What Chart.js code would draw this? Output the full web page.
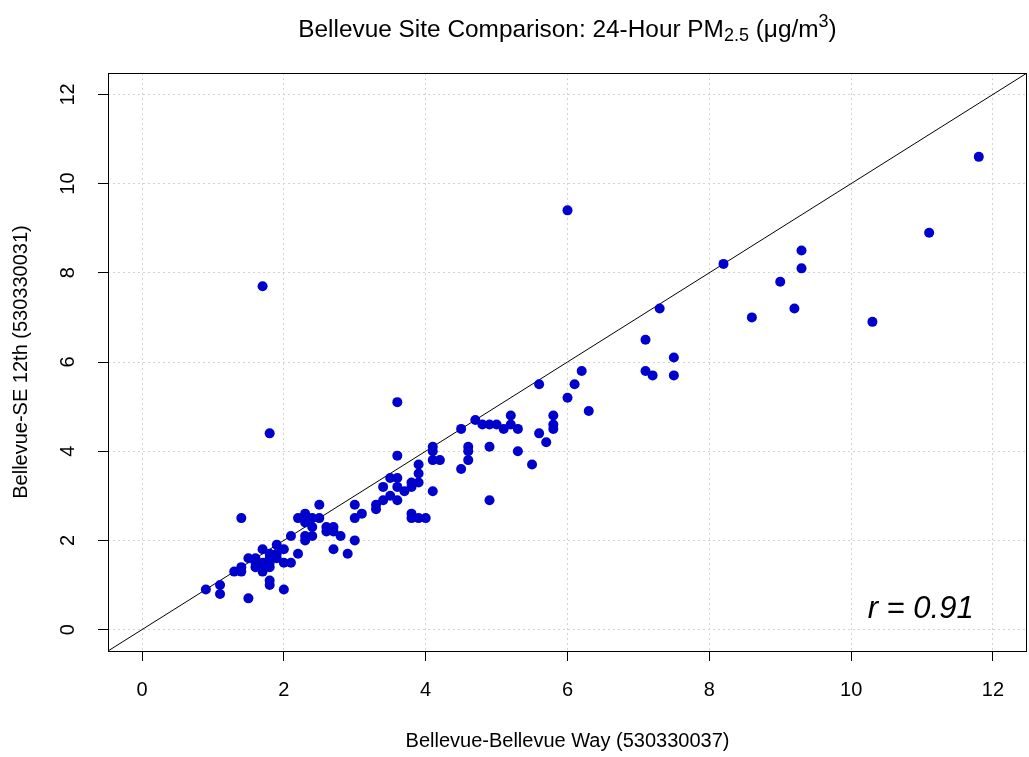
<!DOCTYPE html>
<html>
<head>
<meta charset="utf-8">
<script src="https://cdn.jsdelivr.net/npm/chart.js@4.4.1/dist/chart.umd.min.js"></script>
<style>
html, body { margin: 0; padding: 0; background: #ffffff; }
#wrap { position: relative; width: 1029px; height: 757px; overflow: hidden; }
#chart { position: absolute; left: 0; top: 0; }
#title { position: absolute; left: 108px; width: 919px; top: 17px; text-align: center;
  font-family: "Liberation Sans", Arial, sans-serif; font-size: 24.4px; line-height: 24px; color: #000; white-space: nowrap; }
#title sub { font-size: 18px; line-height: 0; vertical-align: -4px; }
#title sup { font-size: 18px; line-height: 0; vertical-align: 10px; }
</style>
</head>
<body>
<div id="wrap">
  <canvas id="chart" width="1032" height="757"></canvas>
  <div id="title">Bellevue Site Comparison: 24-Hour PM<sub>2.5</sub> (μg/m<sup>3</sup>)</div>
</div>
<script>
// Bellevue-Bellevue Way (530330037) values
const bellevueWay = [
  0.9, 1.1, 1.1, 1.3, 1.4, 1.4, 1.4, 1.5, 1.6, 1.6,
  1.5, 1.7, 1.7, 1.8, 1.8, 2.0, 1.9, 2.0, 2.1, 2.2,
  2.1, 2.0, 1.7, 1.8, 1.6, 1.7, 1.8, 1.8, 1.9, 1.8,
  1.8, 1.9,
  2.3, 2.2, 2.3, 2.4, 2.5, 2.5, 2.4, 2.4, 2.3, 2.3,
  2.6, 2.7, 2.6, 2.7, 2.8, 2.7, 2.9, 3.0, 3.0, 3.0,
  3.1,
  3.3, 3.3, 3.4, 3.5, 3.6, 3.6, 3.7, 3.6, 3.4, 3.5,
  3.8, 3.8, 3.9, 3.9, 3.9, 4.1, 3.8, 3.8, 3.9, 4.0,
  3.6, 3.6, 4.1, 4.1, 4.1, 4.2,
  4.5, 4.6, 4.6, 4.6, 4.5, 4.9, 4.9, 4.7, 4.8, 4.9,
  5.0, 5.1, 5.2, 5.2, 5.3, 5.3,
  5.5, 5.6, 5.7, 5.8, 5.8, 5.8, 5.6, 6.0, 6.1, 6.2,
  6.3, 6.0,
  7.1, 7.1, 7.2, 7.5, 7.5, 7.3, 8.2, 8.6, 9.0, 9.2,
  9.3, 9.3, 10.3, 11.1, 11.8
];
// Bellevue-SE 12th (530330031) values
const bellevueSE12th = [
  0.9, 1.0, 0.8, 1.3, 1.3, 1.4, 2.5, 1.6, 1.6, 1.4,
  0.7, 1.8, 1.3, 1.1, 1.0, 0.9, 1.9, 1.8, 2.1, 1.7,
  1.5, 1.5, 7.7, 4.4, 1.5, 1.5, 1.6, 1.5, 1.7, 1.7,
  1.4, 1.6,
  2.6, 2.5, 2.4, 2.5, 2.5, 2.8, 2.3, 2.1, 2.1, 2.0,
  2.3, 2.3, 2.2, 2.2, 2.1, 1.8, 1.7, 2.0, 2.8, 2.5,
  2.6,
  2.8, 2.7, 3.2, 3.4, 3.4, 3.2, 3.1, 2.9, 2.9, 3.0,
  3.3, 3.2, 3.3, 3.5, 3.7, 3.1, 2.6, 2.5, 2.5, 2.5,
  5.1, 3.9, 4.1, 4.0, 3.8, 3.8,
  4.5, 4.1, 4.0, 3.8, 3.6, 4.1, 2.9, 4.7, 4.6, 4.6,
  4.6, 4.5, 4.8, 4.6, 4.5, 4.0,
  3.7, 4.4, 4.2, 4.8, 4.6, 4.5, 5.5, 5.2, 5.5, 5.8,
  4.9, 9.4,
  6.5, 5.8, 5.7, 6.1, 5.7, 7.2, 8.2, 7.0, 7.8, 7.2,
  8.5, 8.1, 6.9, 8.9, 10.6
];
const tickValues = [0, 2, 4, 6, 8, 10, 12];
const axisMin = -0.48;
const axisMax = 12.48;
const oneToOneLine = [-1, 13];
const rLabel = 'r = 0.91';
const rLabelPos = [10.98, 0.25];
const xTitle = 'Bellevue-Bellevue Way (530330037)';
const yTitle = 'Bellevue-SE 12th (530330031)';

const FONT = '"Liberation Sans", Arial, sans-serif';

const points = bellevueWay.map((x, i) => ({ x: x, y: bellevueSE12th[i] }));
const linePts = oneToOneLine.map(v => ({ x: v, y: v }));

const framePlugin = {
  id: 'frame',
  afterDraw(chart) {
    const { ctx, chartArea, scales } = chart;
    ctx.save();
    ctx.strokeStyle = '#000';
    ctx.lineWidth = 1;
    ctx.strokeRect(Math.round(chartArea.left) + 0.5, Math.round(chartArea.top) + 0.5,
      Math.round(chartArea.right - chartArea.left) - 1, Math.round(chartArea.bottom - chartArea.top));
    ctx.fillStyle = '#000';
    ctx.font = 'italic 31px ' + FONT;
    ctx.textAlign = 'center';
    ctx.textBaseline = 'alphabetic';
    ctx.fillText(rLabel, scales.x.getPixelForValue(rLabelPos[0]), scales.y.getPixelForValue(rLabelPos[1]));
    ctx.restore();
  }
};

new Chart(document.getElementById('chart').getContext('2d'), {
  type: 'scatter',
  data: {
    datasets: [
      {
        type: 'line',
        data: linePts,
        borderColor: '#000000',
        borderWidth: 1,
        pointRadius: 0,
        fill: false,
        tension: 0,
        order: 2
      },
      {
        data: points,
        backgroundColor: '#0000CD',
        borderColor: '#0000CD',
        borderWidth: 0,
        pointRadius: 5,
        pointHoverRadius: 5,
        order: 1
      }
    ]
  },
  options: {
    responsive: false,
    animation: false,
    events: [],
    layout: { padding: { top: 73, right: 0, left: 0, bottom: 0 } },
    plugins: {
      legend: { display: false },
      tooltip: { enabled: false },
      title: { display: false }
    },
    scales: {
      x: {
        type: 'linear',
        min: axisMin,
        max: axisMax,
        afterBuildTicks: s => { s.ticks = tickValues.map(v => ({ value: v })); },
        afterFit: s => { s.height = 106; s.paddingLeft = 0; s.paddingRight = 0; },
        grid: { color: '#d3d3d3', lineWidth: 1, tickColor: '#000', tickLength: 10, tickWidth: 1, tickBorderDash: [] },
        border: { display: false, dash: [2, 3] },
        ticks: { color: '#000', font: { family: FONT, size: 20 }, padding: 17, maxRotation: 0, minRotation: 0,
          callback: v => String(v) },
        title: { display: true, text: xTitle, color: '#000', font: { family: FONT, size: 20 }, padding: { top: 0, bottom: 4 } }
      },
      y: {
        type: 'linear',
        min: axisMin,
        max: axisMax,
        afterBuildTicks: s => { s.ticks = tickValues.map(v => ({ value: v })); },
        afterFit: s => { s.width = 108; s.paddingTop = 0; s.paddingBottom = 0; },
        grid: { color: '#d3d3d3', lineWidth: 1, tickColor: '#000', tickLength: 10, tickWidth: 1, tickBorderDash: [] },
        border: { display: false, dash: [2, 3] },
        ticks: { color: '#000', font: { family: FONT, size: 20 }, padding: 18, minRotation: 90, maxRotation: 90,
          crossAlign: 'center', callback: v => String(v) },
        title: { display: true, text: yTitle, color: '#000', font: { family: FONT, size: 20 }, padding: { top: 9, bottom: 0 } }
      }
    }
  },
  plugins: [framePlugin]
});
</script>
</body>
</html>
